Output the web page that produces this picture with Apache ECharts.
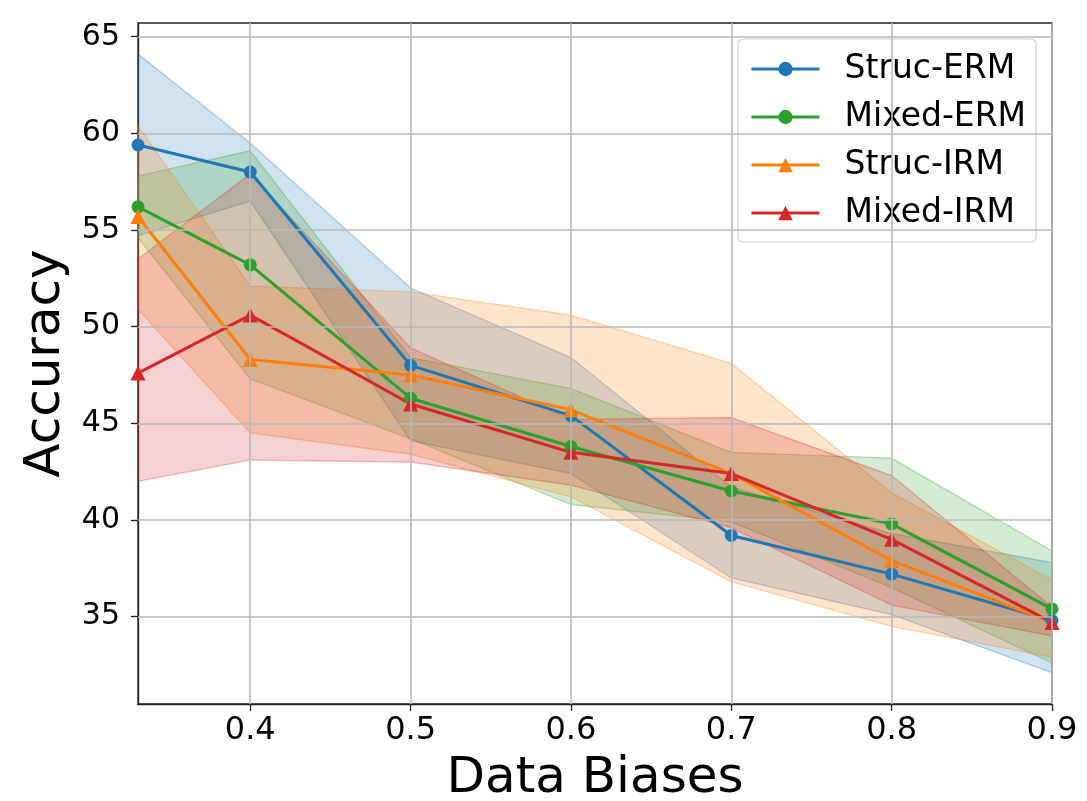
<!DOCTYPE html>
<html>
<head>
<meta charset="utf-8">
<script src="https://cdn.jsdelivr.net/npm/echarts@6/dist/echarts.min.js"></script>
<style>
html,body{margin:0;padding:0;background:#fff;}
#chart{width:1087px;height:801px;}
</style>
</head>
<body>
<div id="chart"></div>
<script>
// ---- data ----
const xValues = [0.33, 0.4, 0.5, 0.6, 0.7, 0.8, 0.9];
const xTicks = [0.4, 0.5, 0.6, 0.7, 0.8, 0.9];
const yTicks = [35, 40, 45, 50, 55, 60, 65];
const seriesNames = ['Struc-ERM', 'Mixed-ERM', 'Struc-IRM', 'Mixed-IRM'];

const strucErmMean  = [59.4, 58.0, 48.0, 45.4, 39.2, 37.2, 34.8];
const strucErmUpper = [64.1, 59.5, 52.0, 48.4, 41.7, 39.3, 37.8];
const strucErmLower = [54.7, 56.5, 44.1, 42.4, 37.0, 35.1, 32.1];

const mixedErmMean  = [56.2, 53.2, 46.3, 43.8, 41.5, 39.8, 35.4];
const mixedErmUpper = [57.8, 59.1, 48.4, 46.8, 43.5, 43.2, 38.4];
const mixedErmLower = [54.6, 47.3, 44.2, 40.8, 39.9, 36.5, 32.6];

const strucIrmMean  = [55.7, 48.3, 47.5, 45.7, 42.4, 37.9, 34.7];
const strucIrmUpper = [60.4, 52.1, 51.8, 50.6, 48.1, 41.4, 36.9];
const strucIrmLower = [50.9, 44.5, 43.4, 41.2, 36.8, 34.5, 32.9];

const mixedIrmMean  = [47.6, 50.6, 46.0, 43.5, 42.4, 39.0, 34.7];
const mixedIrmUpper = [53.5, 57.9, 48.9, 45.2, 45.3, 42.3, 35.5];
const mixedIrmLower = [42.0, 43.1, 43.0, 41.8, 39.6, 35.6, 34.0];

// ---- styling ----
const colors = ['#1f77b4', '#2ca02c', '#ff7f0e', '#d62728'];
const rgb = ['31,119,180', '44,160,44', '255,127,14', '214,39,40'];
const symbols = ['circle', 'circle', 'triangle', 'triangle'];
const means = [strucErmMean, mixedErmMean, strucIrmMean, mixedIrmMean];
const uppers = [strucErmUpper, mixedErmUpper, strucIrmUpper, mixedIrmUpper];
const lowers = [strucErmLower, mixedErmLower, strucIrmLower, mixedIrmLower];
const FONT = 'DejaVu Sans';

function pairs(arr) { return xValues.map((x, i) => [x, arr[i]]); }

const series = [];
// bands (drawn first, under grid)
for (let k = 0; k < 4; k++) {
  const up = uppers[k], lo = lowers[k];
  series.push({
    type: 'custom',
    name: seriesNames[k] + ' band',
    coordinateSystem: 'cartesian2d',
    z: 1,
    silent: true,
    data: [[xValues[0], up[0]]],
    renderItem: function (params, api) {
      const pts = [];
      for (let i = 0; i < xValues.length; i++) pts.push(api.coord([xValues[i], up[i]]));
      for (let i = xValues.length - 1; i >= 0; i--) pts.push(api.coord([xValues[i], lo[i]]));
      return {
        type: 'polygon',
        shape: { points: pts },
        style: { fill: 'rgba(' + rgb[k] + ',0.21)', stroke: 'rgba(' + rgb[k] + ',0.3)', lineWidth: 1.3 }
      };
    }
  });
}
// grid lines
series.push({
  type: 'line',
  name: 'gridlines',
  data: [],
  z: 2,
  silent: true,
  markLine: {
    silent: true,
    symbol: 'none',
    animation: false,
    label: { show: false },
    lineStyle: { color: '#b8b8b8', width: 1.6, type: 'solid' },
    data: xTicks.map(v => ({ xAxis: v })).concat(yTicks.map(v => ({ yAxis: v })))
  }
});
// mean lines
for (let k = 0; k < 4; k++) {
  series.push({
    type: 'line',
    name: seriesNames[k],
    data: pairs(means[k]),
    z: 3,
    symbol: symbols[k],
    symbolSize: symbols[k] === 'circle' ? 13 : 15,
    showAllSymbol: true,
    itemStyle: { color: colors[k] },
    lineStyle: { color: colors[k], width: 3 },
    clip: false
  });
}

const chart = echarts.init(document.getElementById('chart'), null, { renderer: 'canvas' });
chart.setOption({
  animation: false,
  backgroundColor: '#fff',
  grid: {
    left: 138, right: 35, top: 23, bottom: 97,
    outerBoundsMode: 'none',
    containLabel: false,
    show: true, borderColor: '#222', borderWidth: 1.3, backgroundColor: 'transparent'
  },
  xAxis: {
    type: 'value',
    min: 0.33, max: 0.9,
    name: 'Data Biases',
    nameLocation: 'middle',
    nameGap: 50,
    nameTextStyle: { fontFamily: FONT, fontSize: 50, color: '#000' },
    axisLine: { show: true, onZero: false, lineStyle: { color: '#222', width: 1.3 } },
    axisTick: { show: true, length: 7, inside: false, customValues: xTicks, lineStyle: { color: '#222', width: 1.3 } },
    axisLabel: { customValues: xTicks, margin: 11, fontFamily: FONT, fontSize: 32, color: '#000',
      formatter: v => v.toFixed(1) },
    splitLine: { show: false }
  },
  yAxis: {
    type: 'value',
    min: 30.48, max: 65.71,
    name: 'Accuracy',
    nameLocation: 'middle',
    nameGap: 66,
    nameRotate: 90,
    nameTextStyle: { fontFamily: FONT, fontSize: 50, color: '#000' },
    axisLine: { show: true, onZero: false, lineStyle: { color: '#222', width: 1.3 } },
    axisTick: { show: true, length: 7, inside: false, customValues: yTicks, lineStyle: { color: '#222', width: 1.3 } },
    axisLabel: { customValues: yTicks, margin: 18, fontFamily: FONT, fontSize: 30, color: '#000',
      formatter: v => String(Math.round(v)) },
    splitLine: { show: false }
  },
  legend: {
    data: seriesNames,
    orient: 'vertical',
    left: 738, top: 39,
    padding: [12, 10, 11, 12],
    itemWidth: 68, itemHeight: 18, itemGap: 12,
    backgroundColor: 'rgba(255,255,255,0.8)',
    borderColor: '#d0d0d0', borderWidth: 1.2, borderRadius: 5,
    lineStyle: { width: 3 },
    textStyle: { fontFamily: FONT, fontSize: 33, color: '#000', lineHeight: 36, padding: [0, 0, 0, 20] },
    selectedMode: false
  },
  series: series
});
</script>
</body>
</html>
